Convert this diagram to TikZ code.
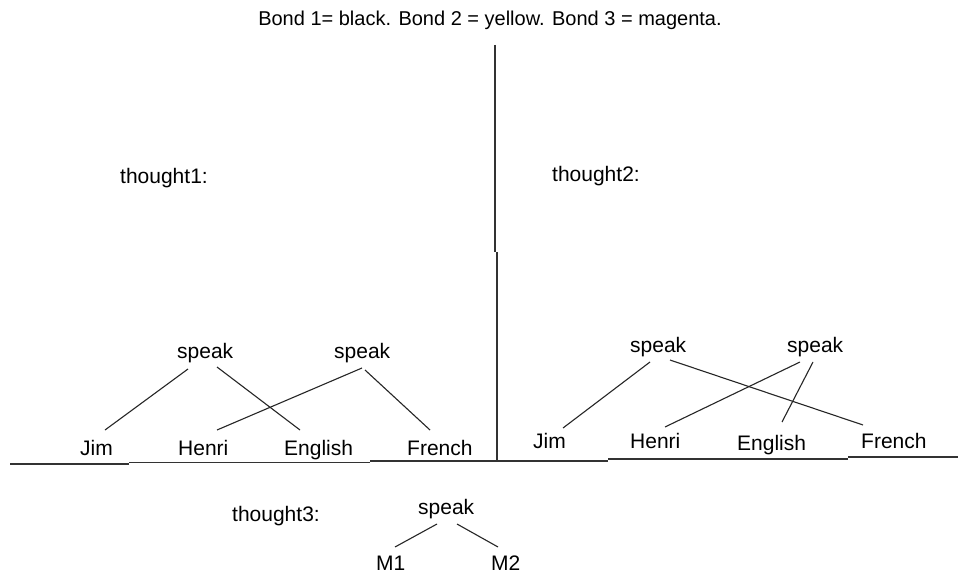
\documentclass[tikz,border=0pt]{standalone}
\usepackage{fontspec}
\setmainfont{Liberation Sans}
\begin{document}
\begin{tikzpicture}[x=1pt,y=-1pt,
  lbl/.style={anchor=base west,inner sep=0pt,font=\fontsize{21}{25}\selectfont},
  bond/.style={line width=1.1pt,black!85},
  rule/.style={line width=1.3pt,black!80}]
\useasboundingbox[fill=white] (0,0) rectangle (958,575);

% title
\node[anchor=base,inner sep=0pt,font=\fontsize{20}{24}\selectfont] (title) at (490,26) {Bond 1= black. Bond 2 = yellow. Bond 3 = magenta.};

% separators
\draw[rule] (495,45) -- (495,252);
\draw[rule] (497,252) -- (497,460);
\draw[rule] (10,464) -- (129,464);
\draw[rule] (129,462.5) -- (370,462.5);
\draw[rule] (370,461) -- (608,461);
\draw[rule] (608,459) -- (848,459);
\draw[rule] (848,457) -- (958,457);

% headings
\node[lbl] (t1) at (120,183) {thought1:};
\node[lbl] (t2) at (552,181) {thought2:};
\node[lbl] (t3) at (232,521) {thought3:};

% thought1
\node[lbl] (s1) at (177,358) {speak};
\node[lbl] (s2) at (334,358) {speak};
\node[lbl] (jimA) at (80,455) {Jim};
\node[lbl] (henA) at (178,455) {Henri};
\node[lbl] (engA) at (284,455) {English};
\node[lbl] (freA) at (407,455) {French};
\draw[bond] ([shift={(11,11)}]s1.base west) -- ([shift={(25,-25)}]jimA.base west);
\draw[bond] ([shift={(40,9)}]s1.base west) -- ([shift={(16,-25)}]engA.base west);
\draw[bond] ([shift={(28,10)}]s2.base west) -- ([shift={(39,-25)}]henA.base west);
\draw[bond] ([shift={(31,12)}]s2.base west) -- ([shift={(23,-25)}]freA.base west);

% thought2
\node[lbl] (s3) at (630,352) {speak};
\node[lbl] (s4) at (787,352) {speak};
\node[lbl] (jimB) at (533,448) {Jim};
\node[lbl] (henB) at (630,448) {Henri};
\node[lbl] (engB) at (737,450) {English};
\node[lbl] (freB) at (861,448) {French};
\draw[bond] ([shift={(20,10)}]s3.base west) -- ([shift={(30,-20)}]jimB.base west);
\draw[bond] ([shift={(40,8)}]s3.base west) -- ([shift={(2,-23)}]freB.base west);
\draw[bond] ([shift={(13,10)}]s4.base west) -- ([shift={(35,-21)}]henB.base west);
\draw[bond] ([shift={(26,10)}]s4.base west) -- ([shift={(45,-28)}]engB.base west);

% thought3
\node[lbl] (s5) at (418,514) {speak};
\node[lbl] (m1) at (376,570) {M1};
\node[lbl] (m2) at (491,570) {M2};
\draw[bond] ([shift={(19,10)}]s5.base west) -- ([shift={(19,-23)}]m1.base west);
\draw[bond] ([shift={(39,10)}]s5.base west) -- ([shift={(7,-23)}]m2.base west);
\end{tikzpicture}
\end{document}
